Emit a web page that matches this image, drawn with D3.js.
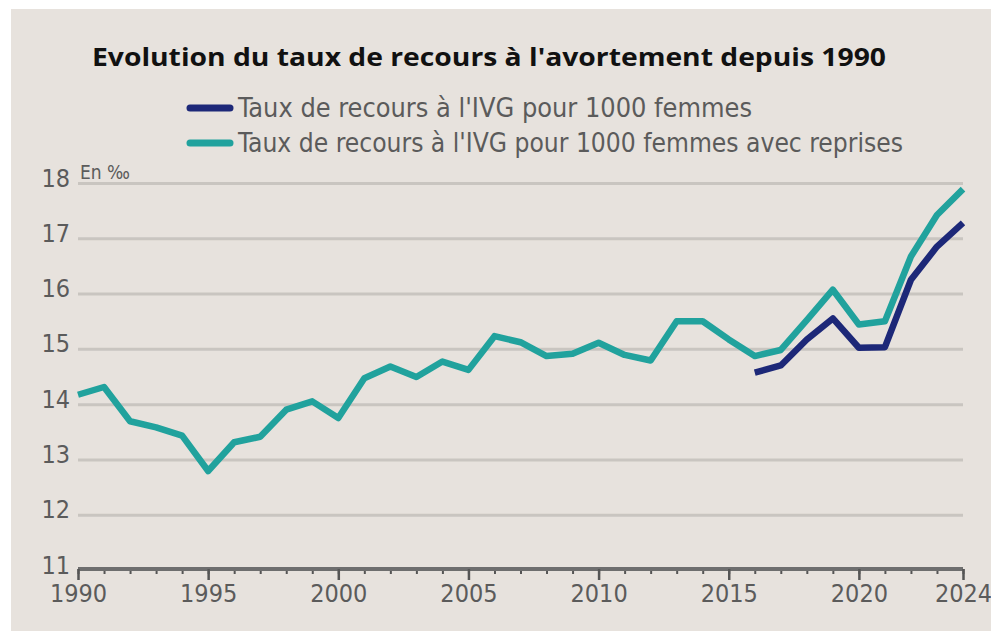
<!DOCTYPE html>
<html>
<head>
<meta charset="utf-8">
<script src="https://cdn.jsdelivr.net/npm/d3@7"></script>
<style>
  body { margin: 0; background: #ffffff; }
  svg { display: block; }
</style>
</head>
<body>
<svg id="chart"></svg>
<script>
// data (taux pour 1000 femmes)
var years = d3.range(1990, 2025);
var tauxReprises = [14.17, 14.31, 13.69, 13.58, 13.43, 12.79, 13.31, 13.41, 13.90, 14.05,
                    13.75, 14.47, 14.68, 14.49, 14.77, 14.62, 15.23, 15.12, 14.87, 14.91,
                    15.11, 14.89, 14.79, 15.50, 15.50, 15.17, 14.87, 14.98, 15.52, 16.07,
                    15.44, 15.50, 16.67, 17.42, 17.89];
var yearsIVG = d3.range(2016, 2025);
var tauxIVG = [14.57, 14.70, 15.17, 15.55, 15.02, 15.03, 16.25, 16.85, 17.28];
var yTicks = [11, 12, 13, 14, 15, 16, 17, 18];
var xLabels = [1990, 1995, 2000, 2005, 2010, 2015, 2020, 2024];
var legendLabels = ["Taux de recours à l'IVG pour 1000 femmes",
                    "Taux de recours à l'IVG pour 1000 femmes avec reprises"];

var width = 991, height = 631;
var navy = "#1d2878", teal = "#21a29d", textGray = "#5b5b5b";
var condensed = "'Liberation Sans Narrow', 'DejaVu Sans Condensed', sans-serif";

var svg = d3.select("#chart").attr("width", width).attr("height", height);

// beige panel, small white margin top/left
svg.append("rect").attr("x", 11).attr("y", 9).attr("width", width - 11).attr("height", height - 9)
    .attr("fill", "#e7e2dd");

var x = d3.scaleLinear().domain([1990, 2024]).range([78, 963]);
var y = d3.scaleLinear().domain([11, 18]).range([570, 183]);

// title
svg.append("text")
    .attr("x", 92).attr("y", 66)
    .attr("textLength", 794).attr("lengthAdjust", "spacingAndGlyphs")
    .style("font-family", "'Open Sans', sans-serif").style("font-weight", "bold")
    .style("font-size", "25px").attr("fill", "#111")
    .text("Evolution du taux de recours à l'avortement depuis 1990");

// legend
var legend = svg.append("g");
[[navy, 108, 514], [teal, 143, 665]].forEach(function(d, i) {
    legend.append("line")
        .attr("x1", 190).attr("x2", 230).attr("y1", d[1]).attr("y2", d[1])
        .attr("stroke", d[0]).attr("stroke-width", 7).attr("stroke-linecap", "round");
    legend.append("text")
        .attr("x", 238).attr("y", d[1] + 9)
        .attr("textLength", d[2]).attr("lengthAdjust", "spacingAndGlyphs")
        .style("font-family", condensed).style("font-size", "26px")
        .attr("fill", textGray)
        .text(legendLabels[i]);
});

// y axis + gridlines
var yAxis = svg.append("g")
    .attr("transform", "translate(78,0)")
    .call(d3.axisLeft(y).tickValues(yTicks).tickSize(-(963 - 78)).tickPadding(8).tickFormat(d3.format("d")));
yAxis.select(".domain").remove();
yAxis.selectAll(".tick line")
    .attr("stroke", "#c9c5c0").attr("stroke-width", 3)
    .attr("display", function(d) { return d === 11 ? "none" : null; });
yAxis.selectAll(".tick text")
    .attr("dy", "0.12em")
    .style("font-family", condensed).style("font-size", "25px").attr("fill", textGray);

svg.append("text")
    .attr("x", 80).attr("y", 179)
    .style("font-family", condensed).style("font-size", "19px").attr("fill", textGray)
    .text("En ‰");

// x axis: minor ticks every year, major every 5 years
var xMinor = svg.append("g")
    .attr("transform", "translate(0,569)")
    .call(d3.axisBottom(x).tickValues(years).tickSize(5).tickFormat(""));
xMinor.select(".domain").remove();
xMinor.selectAll(".tick line").attr("stroke", "#555").attr("stroke-width", 2);

var xAxis = svg.append("g")
    .attr("transform", "translate(0,569)")
    .call(d3.axisBottom(x).tickValues(xLabels).tickSize(11).tickPadding(4).tickFormat(d3.format("d")));
xAxis.select(".domain").attr("d", "M" + x(1990) + ",0H" + x(2024))
    .attr("stroke", "#6e6e6e").attr("stroke-width", 4);
xAxis.selectAll(".tick line").attr("stroke", "#555").attr("stroke-width", 2.5);
xAxis.selectAll(".tick text")
    .style("font-family", condensed).style("font-size", "25px").attr("fill", textGray);

// lines
var line = d3.line()
    .x(function(d) { return x(d[0]); })
    .y(function(d) { return y(d[1]); });

svg.append("path")
    .datum(d3.zip(years, tauxReprises))
    .attr("d", line)
    .attr("fill", "none").attr("stroke", teal).attr("stroke-width", 6.5)
    .attr("stroke-linejoin", "round");

svg.append("path")
    .datum(d3.zip(yearsIVG, tauxIVG))
    .attr("d", line)
    .attr("fill", "none").attr("stroke", navy).attr("stroke-width", 6.5)
    .attr("stroke-linejoin", "round");
</script>
</body>
</html>
